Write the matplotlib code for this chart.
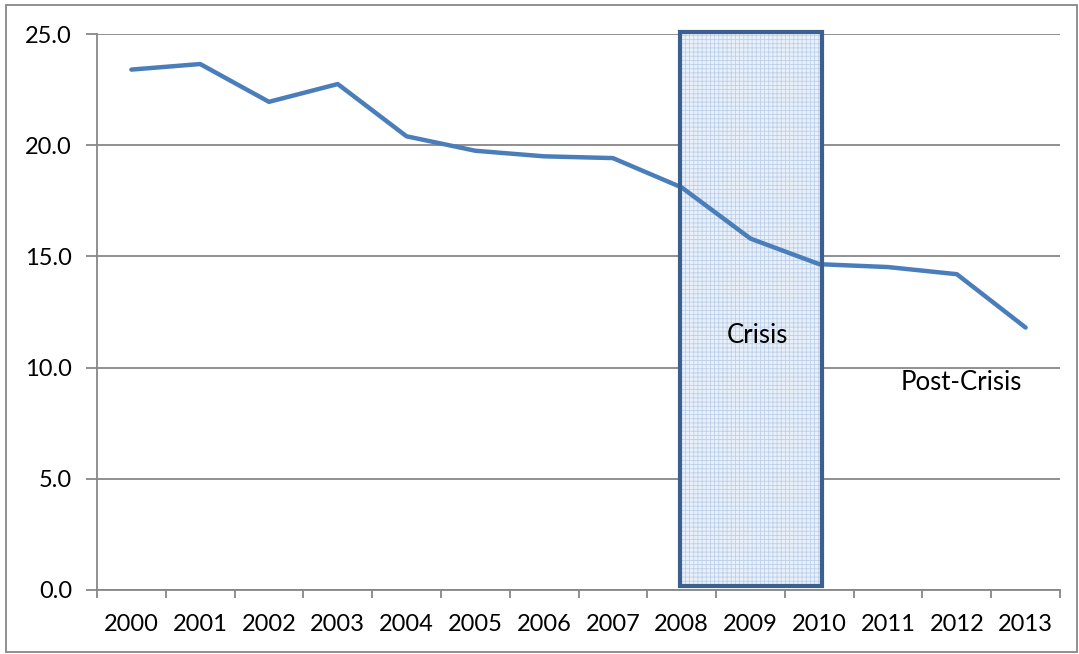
import matplotlib.pyplot as plt
from matplotlib.patches import Rectangle

years = ['2000', '2001', '2002', '2003', '2004', '2005', '2006',
         '2007', '2008', '2009', '2010', '2011', '2012', '2013']
values = [23.4, 23.65, 21.95, 22.75, 20.4, 19.75, 19.5,
          19.42, 18.1, 15.8, 14.65, 14.52, 14.2, 11.8]

plt.rcParams['font.family'] = ['Lato', 'DejaVu Sans']
plt.rcParams['hatch.linewidth'] = 0.6

fig = plt.figure(figsize=(10.79, 6.54), dpi=100)
ax = fig.add_axes([0.0899, 0.0979, 0.8925, 0.8501])

x = list(range(len(years)))
ax.plot(x, values, color='#4A7EBB', linewidth=3.2, solid_capstyle='round', zorder=4.5)

# crisis box (shape drawn over the chart)
ax.add_patch(Rectangle((7.97, 0.2), 2.07, 24.9, facecolor='#eaf0f9',
                       edgecolor='#bcd0ea', hatch='++++', linewidth=0, zorder=4))
ax.add_patch(Rectangle((7.97, 0.2), 2.07, 24.9, facecolor='none',
                       edgecolor='#3b6090', linewidth=3, zorder=5, clip_on=False))
ax.text(9.1, 11.45, 'Crisis', fontsize=18.5, ha='center', va='center', zorder=6)
ax.text(12.07, 9.35, 'Post-Crisis', fontsize=18.5, ha='center', va='center', zorder=6)

ax.set_xlim(-0.5, 13.5)
ax.set_ylim(0, 25)
ax.set_yticks([0, 5, 10, 15, 20, 25])
ax.set_yticklabels(['%.1f' % v for v in [0, 5, 10, 15, 20, 25]])
ax.set_xticks(x)
ax.set_xticklabels(years)
ax.set_xticks([i + 0.5 for i in range(-1, 14)], minor=True)

ax.grid(axis='y', color='#878787', linewidth=1.3)
ax.set_axisbelow(True)
for s in ['top', 'right']:
    ax.spines[s].set_visible(False)
for s in ['left', 'bottom']:
    ax.spines[s].set_color('#878787')
    ax.spines[s].set_linewidth(1.3)

ax.tick_params(axis='x', which='major', length=0, labelsize=17, pad=17)
ax.tick_params(axis='x', which='minor', length=6, color='#878787', width=1.3)
ax.tick_params(axis='y', length=8, color='#878787', width=1.3, labelsize=17, pad=10)

# outer chart border
fig.patches.append(Rectangle((6 / 1079, 2 / 654), 1071 / 1079, 647 / 654,
                             transform=fig.transFigure, fill=False,
                             edgecolor='#878787', linewidth=1.3))

fig.savefig('out.png', dpi=100)
